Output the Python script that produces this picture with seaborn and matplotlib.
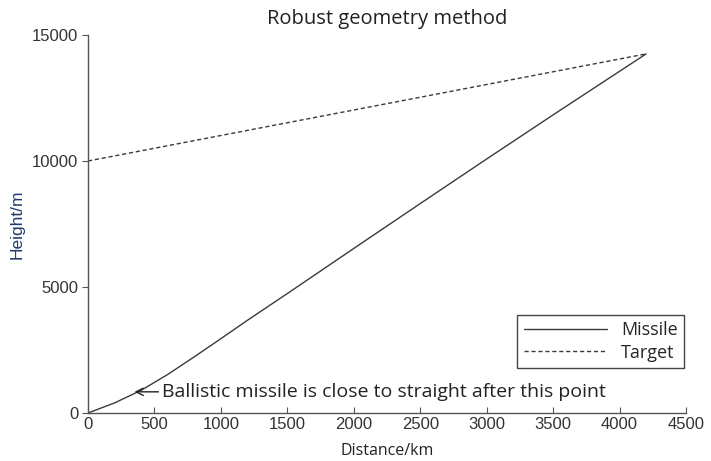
import matplotlib
matplotlib.use("Agg")
import matplotlib.pyplot as plt
import seaborn as sns
import pandas as pd

missile_x = [0, 200, 400, 600, 800, 1000, 1200, 1500, 2000, 2500, 3000, 3500, 4000, 4200]
missile_y = [0, 400, 900, 1530, 2230, 2950, 3680, 4740, 6530, 8310, 10080, 11830, 13560, 14250]
target_x = [0, 4200]
target_y = [10000, 14250]
x_ticks = [0, 500, 1000, 1500, 2000, 2500, 3000, 3500, 4000, 4500]
y_ticks = [0, 5000, 10000, 15000]

df = pd.concat([
    pd.DataFrame({"x": missile_x, "y": missile_y, "series": "Missile"}),
    pd.DataFrame({"x": target_x, "y": target_y, "series": "Target"}),
])

sns.set_style("white")
plt.rcParams['font.family'] = ['Open Sans', 'DejaVu Sans']

fig = plt.figure(figsize=(7.11, 4.61), dpi=100)
ax = fig.add_axes([88/711, 1-413/461, (686-88)/711, (413-35)/461])

line_color = "#3a3a3a"
sns.lineplot(data=df, x="x", y="y", style="series",
             dashes={"Missile": "", "Target": (3, 2)},
             color=line_color, linewidth=1.0, ax=ax, sort=False,
             estimator=None, legend=True)

ax.set_xlim(0, 4500)
ax.set_ylim(0, 15000)
ax.set_xticks(x_ticks)
ax.set_yticks(y_ticks)
ax.set_xticklabels([str(t) for t in x_ticks], family="Liberation Sans", fontsize=12, color="#333333")
ax.set_yticklabels([str(t) for t in y_ticks], family="Liberation Sans", fontsize=12, color="#333333")
ax.tick_params(axis="x", direction="in", length=4, color="#555555", pad=3, bottom=True)
ax.tick_params(axis="y", direction="out", length=4, color="#555555", pad=3, left=True)
for s in ["top", "right"]:
    ax.spines[s].set_visible(False)
for s in ["left", "bottom"]:
    ax.spines[s].set_color("#555555")
    ax.spines[s].set_linewidth(1.0)

ax.set_title("Robust geometry method", fontsize=14.5, color="#222222", pad=8)
ax.set_xlabel("Distance/km", fontsize=11.5, color="#222222", labelpad=8)
ax.set_ylabel("Height/m", fontsize=12.5, color="#1f3a6e", labelpad=5, family="Liberation Sans")

ax.text(555, 833, "Ballistic missile is close to straight after this point",
        fontsize=14, color="#222222", va="center", ha="left")
ax.annotate("", xy=(350, 840), xytext=(530, 840),
            arrowprops=dict(arrowstyle="->", color="#222222", lw=1.0,
                            shrinkA=0, shrinkB=0, mutation_scale=13))

handles, labels = ax.get_legend_handles_labels()
leg = ax.legend(handles, labels, loc="lower right", bbox_to_anchor=(0.997, 0.119),
                borderaxespad=0, fontsize=13, frameon=True, fancybox=False,
                edgecolor="#444444", framealpha=1, handlelength=4.6,
                borderpad=0.35, labelspacing=0.25, handletextpad=0.8)
leg.get_frame().set_linewidth(1.0)

fig.savefig("out.png", dpi=100)
